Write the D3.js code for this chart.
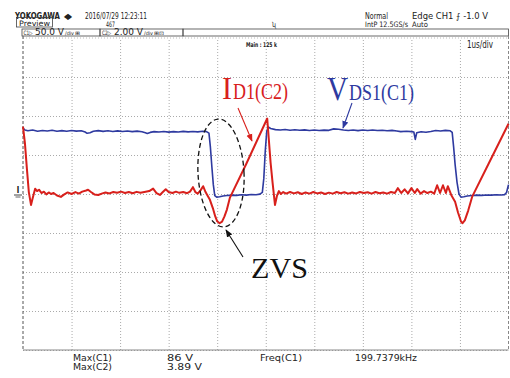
<!DOCTYPE html>
<html>
<head>
<meta charset="utf-8">
<script src="https://cdn.jsdelivr.net/npm/d3@7"></script>
<style>
  html, body { margin: 0; padding: 0; background: #fff; }
  svg { display: block; }
  .scope { font-family: "Liberation Sans Narrow", "DejaVu Sans Condensed", "Liberation Sans", sans-serif; fill: #222; }
  .serif { font-family: "Liberation Serif", "Times New Roman", serif; }
</style>
</head>
<body>
<svg id="chart" width="510" height="378"></svg>
<script>
// Time base: 1 us/div, 10 divisions
const timeTicks = [0, 1, 2, 3, 4, 5, 6, 7, 8, 9, 10];
// Vertical graticule: 8 divisions (C1 at 50 V/div, C2 at 2 V/div)
const vdsTicks = [-200, -150, -100, -50, 0, 50, 100, 150, 200];

// C1: drain-source voltage V_DS1 (time in us, volts)
const vdsTime = [0.00,0.04,0.10,0.20,0.30,0.40,0.50,0.60,0.70,0.80,0.90,1.00,1.10,1.20,1.28,1.32,1.38,1.45,1.55,1.65,1.75,1.85,1.95,2.05,2.15,2.25,2.35,2.45,2.52,2.56,2.62,2.70,2.80,2.90,3.00,3.10,3.20,3.30,3.40,3.50,3.60,3.70,3.78,3.83,3.86,3.89,3.92,3.95,3.99,4.05,4.12,4.20,4.30,4.40,4.50,4.60,4.70,4.80,4.88,4.93,4.96,4.99,5.02,5.05,5.10,5.20,5.30,5.40,5.50,5.60,5.70,5.80,5.90,6.00,6.10,6.20,6.30,6.40,6.50,6.60,6.70,6.80,6.90,7.00,7.10,7.20,7.30,7.40,7.50,7.60,7.70,7.78,7.90,8.00,8.05,8.08,8.11,8.20,8.30,8.40,8.50,8.60,8.70,8.80,8.84,8.87,8.90,8.94,8.98,9.02,9.08,9.15,9.25,9.35,9.45,9.55,9.65,9.75,9.85,9.92,9.96,10.00];
const vdsVolts = [84.6,82.0,81.0,82.0,80.5,81.5,80.8,81.8,80.5,81.2,80.4,81.5,80.6,81.0,79.5,77.8,78.5,80.5,81.2,80.3,81.0,80.2,80.9,80.1,80.8,80.0,80.6,79.8,78.5,77.6,79.0,80.0,79.4,80.2,79.3,80.0,79.5,80.3,79.6,80.2,79.7,80.4,80.0,78.0,60.0,35.0,12.0,-2.0,-4.0,-3.5,-2.5,-2.0,-1.5,-1.8,-1.0,-1.4,-0.6,-1.0,-0.2,2.0,20.0,55.0,80.0,86.0,84.0,82.5,82.0,82.6,81.8,82.4,81.7,82.2,81.5,82.0,81.4,81.9,81.6,83.5,83.0,82.0,81.5,82.0,81.3,82.0,81.5,82.1,81.4,81.8,81.0,81.6,80.8,80.0,80.5,80.0,79.5,70.0,78.5,79.8,79.2,80.2,81.5,80.8,81.6,81.0,79.0,60.0,38.0,15.0,0.0,-4.0,-3.5,-2.5,-2.0,-1.5,-1.8,-1.2,-1.5,-1.0,-1.3,-0.8,2.0,12.0];

// C2: diode current I_D1 probe output (time in us, volts)
const idTime = [0.00,0.04,0.08,0.12,0.165,0.20,0.25,0.29,0.33,0.38,0.43,0.48,0.53,0.58,0.63,0.70,0.78,0.85,0.92,1.00,1.08,1.15,1.22,1.30,1.34,1.40,1.47,1.55,1.62,1.70,1.78,1.86,1.94,2.02,2.10,2.18,2.26,2.34,2.42,2.50,2.60,2.68,2.75,2.82,2.88,2.94,3.00,3.08,3.15,3.22,3.30,3.38,3.44,3.50,3.55,3.60,3.66,3.71,3.76,3.80,3.85,3.91,3.96,4.00,4.05,4.10,4.15,4.20,4.26,4.60,5.03,5.06,5.10,5.14,5.19,5.23,5.27,5.31,5.36,5.42,5.50,5.58,5.66,5.74,5.82,5.90,5.98,6.06,6.14,6.22,6.30,6.38,6.46,6.54,6.62,6.70,6.78,6.86,6.94,7.02,7.10,7.18,7.26,7.34,7.42,7.50,7.58,7.66,7.72,7.79,7.86,7.93,8.00,8.07,8.12,8.19,8.26,8.33,8.40,8.47,8.53,8.59,8.65,8.71,8.75,8.82,8.90,8.96,9.02,9.05,9.10,9.17,9.25,9.60,10.00];
const idVolts = [3.45,2.60,1.30,0.10,-0.56,-0.20,0.27,0.15,0.22,0.05,0.12,-0.02,0.08,0.00,0.05,-0.08,-0.15,-0.02,0.08,0.00,0.10,0.02,0.12,0.18,0.22,0.10,-0.02,-0.05,0.02,0.08,0.03,0.10,0.06,0.12,0.05,0.10,0.04,0.11,0.06,0.10,0.15,0.28,0.05,-0.05,0.10,0.24,0.10,0.05,0.12,0.06,0.10,0.04,0.12,0.35,0.10,0.02,0.20,0.40,0.10,-0.08,-0.30,-0.72,-1.15,-1.40,-1.50,-1.42,-1.15,-0.80,-0.20,1.55,3.87,2.90,1.60,0.60,-0.56,-0.10,0.15,0.00,0.10,0.02,0.10,0.03,0.09,0.00,0.08,0.02,0.10,0.03,0.08,0.00,0.07,0.02,0.10,0.04,0.09,0.02,0.08,0.03,0.10,0.05,0.09,0.02,0.10,0.04,0.08,0.02,0.10,0.05,0.30,0.05,0.24,0.03,0.30,0.05,0.25,0.02,0.15,0.05,0.12,0.02,0.45,0.05,0.45,0.05,0.40,-0.05,-0.40,-0.95,-1.40,-1.50,-1.35,-0.85,-0.15,1.60,3.60];

// Measurement readouts
const measureNames = ["Max(C1)", "Max(C2)"];
const measureValues = ["86 V", "3.89 V"];
const freqName = "Freq(C1)";
const freqValue = "199.7379kHz";

const svg = d3.select("#chart");
const plotLeft = 23, plotRight = 508.5, plotTop = 38, plotBottom = 350;

const x = d3.scaleLinear().domain([0, 10]).range([plotLeft, plotRight]);
const yV = d3.scaleLinear().domain([-200, 200]).range([plotBottom, plotTop]);
const yI = d3.scaleLinear().domain([-8, 8]).range([plotBottom, plotTop]);

// condensed readout text: fixed advance width like the instrument's screen font
function label(g, px, py, size, str, width, extra) {
  const t = g.append("text").attr("x", px).attr("y", py).attr("font-size", size).text(str);
  if (width) t.attr("textLength", width).attr("lengthAdjust", "spacingAndGlyphs");
  if (extra) extra(t);
  return t;
}

// ---------- header ----------
const hdr = svg.append("g").attr("class", "scope");
label(hdr, 15, 18.5, 8, "YOKOGAWA", 45, t => t.attr("font-weight", "bold"));
label(hdr, 64, 18.5, 8, "◆", 8);
label(hdr, 85, 18.5, 8, "2016/07/29 12:23:11", 62);
hdr.append("rect").attr("x", 16.5).attr("y", 17.5).attr("width", 36).attr("height", 9.5)
  .attr("fill", "none").attr("stroke", "#444").attr("stroke-width", 0.8);
label(hdr, 19, 26.3, 7.5, "Preview", 31);
label(hdr, 106, 27, 7.5, "467", 9);
label(hdr, 272, 27, 7, "ʯ", 4);
label(hdr, 365, 18.5, 8, "Normal", 23);
label(hdr, 365, 27.2, 7.5, "IntP 12.5GS/s", 43);
label(hdr, 412, 18.5, 8, "Edge CH1 ⨍ -1.0 V", 76);
label(hdr, 412, 27.2, 7.5, "Auto", 16);

// channel setting boxes
const boxes = [[22, 100], [100, 183], [183, 508.5]];
boxes.forEach(([a, b]) => {
  hdr.append("rect").attr("x", a).attr("y", 29).attr("width", b - a).attr("height", 7)
    .attr("fill", "none").attr("stroke", "#444").attr("stroke-width", 0.8);
});
label(hdr, 23.5, 35.3, 6, "C1▷", 9);
label(hdr, 35, 35.3, 8.5, "50.0 V", 29);
label(hdr, 65, 35.3, 5, "/div", 9);
label(hdr, 75, 35.3, 5, "⊞", 5);
label(hdr, 102, 35.3, 6, "C2▷", 9);
label(hdr, 114, 35.3, 8.5, "2.00 V", 29);
label(hdr, 144, 35.3, 5, "/div", 9);
label(hdr, 154, 35.3, 5, "⊞⊡", 10);

// ---------- graticule ----------
const grid = svg.append("g");
grid.append("g").attr("transform", `translate(0,${plotBottom})`)
  .call(d3.axisBottom(x).tickValues(timeTicks.slice(1, -1)).tickSize(0).tickFormat(""))
  .call(g => g.select(".domain").remove())
  .call(g => g.selectAll("line").attr("y2", -(plotBottom - plotTop)).attr("stroke", "#aaa")
    .attr("stroke-dasharray", "1,2"));
grid.append("g").attr("transform", `translate(${plotLeft},0)`)
  .call(d3.axisLeft(yV).tickValues(vdsTicks.slice(0, -1)).tickSize(0).tickFormat(""))
  .call(g => g.select(".domain").remove())
  .call(g => g.selectAll("line").attr("x2", plotRight - plotLeft).attr("stroke", "#aaa")
    .attr("stroke-dasharray", "1,2"));
grid.append("line").attr("x1", plotLeft).attr("x2", plotRight).attr("y1", plotTop).attr("y2", plotTop)
  .attr("stroke", "#bbb").attr("stroke-dasharray", "1,2");
grid.append("line").attr("x1", plotLeft).attr("x2", plotLeft).attr("y1", 36).attr("y2", plotBottom)
  .attr("stroke", "#555").attr("stroke-dasharray", "3,2").attr("stroke-width", 1);
grid.append("line").attr("x1", plotRight).attr("x2", plotRight).attr("y1", 36).attr("y2", plotBottom)
  .attr("stroke", "#888").attr("stroke-dasharray", "3,2").attr("stroke-width", 1);
grid.append("line").attr("x1", plotLeft).attr("x2", plotRight).attr("y1", plotBottom).attr("y2", plotBottom)
  .attr("stroke", "#888").attr("stroke-width", 1);

const info = svg.append("g").attr("class", "scope");
label(info, 246, 47, 6.5, "Main : 125 k", 31, t => t.attr("font-weight", "bold"));
label(info, 467, 48, 10, "1us/div", 26);

// ground marker for the traces
const gy = yV(0);
label(info, 16, gy - 1, 8, "I", 4);
info.append("line").attr("x1", 14).attr("x2", 22).attr("y1", gy + 1).attr("y2", gy + 1).attr("stroke", "#444");
info.append("line").attr("x1", 15.5).attr("x2", 20.5).attr("y1", gy + 3).attr("y2", gy + 3).attr("stroke", "#666");

// ---------- traces ----------
const vdsLine = d3.line().x((d, i) => x(vdsTime[i])).y(d => yV(d));
const idLine = d3.line().x((d, i) => x(idTime[i])).y(d => yI(d));

svg.append("path").datum(vdsVolts).attr("d", vdsLine)
  .attr("fill", "none").attr("stroke", "#2e3aa0").attr("stroke-width", 1.6)
  .attr("stroke-linejoin", "round");
svg.append("path").datum(idVolts).attr("d", idLine)
  .attr("fill", "none").attr("stroke", "#d8201c").attr("stroke-width", 2)
  .attr("stroke-linejoin", "round");

// ---------- annotations ----------
const defs = svg.append("defs");
[["arRed", "#d8201c"], ["arBlue", "#2e3aa0"], ["arBlack", "#111"]].forEach(([id, c]) => {
  defs.append("marker").attr("id", id).attr("viewBox", "0 0 10 10").attr("refX", 9).attr("refY", 5)
    .attr("markerWidth", 7).attr("markerHeight", 7).attr("orient", "auto")
    .append("path").attr("d", "M0,1 L10,5 L0,9 Z").attr("fill", c);
});

const ann = svg.append("g").attr("class", "serif");
label(ann, 222, 99, 31, "I", 10, t => t.attr("fill", "#d8201c"));
label(ann, 233, 99, 23, "D1(C2)", 55, t => t.attr("fill", "#d8201c"));
label(ann, 327, 100, 33, "V", 21, t => t.attr("fill", "#2e3aa0"));
label(ann, 349, 100, 23, "DS1(C1)", 65, t => t.attr("fill", "#2e3aa0"));

ann.append("line").attr("x1", 238).attr("y1", 108).attr("x2", 252).attr("y2", 141)
  .attr("stroke", "#d8201c").attr("stroke-width", 1.1).attr("marker-end", "url(#arRed)");
ann.append("line").attr("x1", 352).attr("y1", 103).attr("x2", 343).attr("y2", 128)
  .attr("stroke", "#2e3aa0").attr("stroke-width", 1.1).attr("marker-end", "url(#arBlue)");

ann.append("ellipse").attr("cx", 221).attr("cy", 173).attr("rx", 23).attr("ry", 54)
  .attr("transform", "rotate(-3,221,173)")
  .attr("fill", "none").attr("stroke", "#111").attr("stroke-width", 1.3).attr("stroke-dasharray", "5,3");
ann.append("line").attr("x1", 243).attr("y1", 257).attr("x2", 226).attr("y2", 230)
  .attr("stroke", "#111").attr("stroke-width", 1.1).attr("marker-end", "url(#arBlack)");
label(ann, 251, 278, 29, "ZVS", 57, t => t.attr("fill", "#111"));

// ---------- measurements ----------
const meas = svg.append("g").attr("class", "scope");
measureNames.forEach((n, i) => {
  label(meas, 73, 360.5 + i * 9.5, 8.5, n, 39);
  label(meas, 167, 360.5 + i * 9.5, 8.5, measureValues[i], i === 0 ? 26 : 35);
});
label(meas, 260, 360.5, 8.5, freqName, 42);
label(meas, 355, 360.5, 8.5, freqValue, 62);
</script>
</body>
</html>
